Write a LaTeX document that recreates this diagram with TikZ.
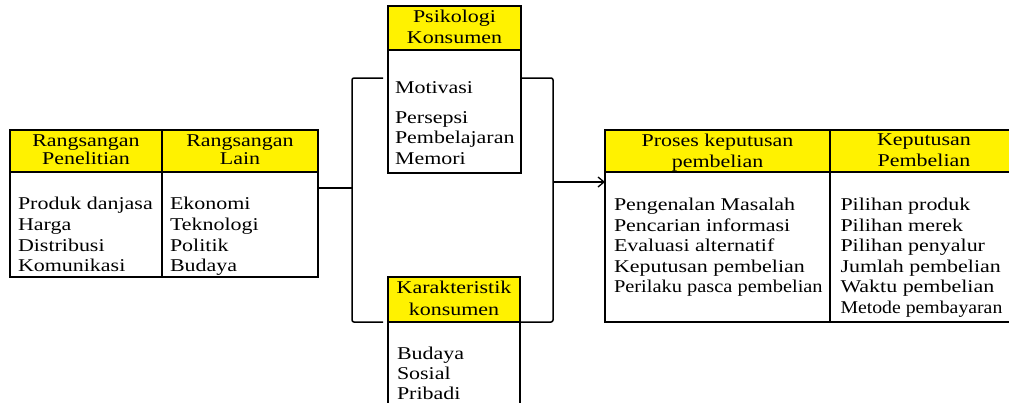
\documentclass[tikz,border=0pt]{standalone}
\usepackage{fontspec}
\usepackage{graphicx}
\setmainfont{Liberation Serif}[FakeStretch=1.22]
\usetikzlibrary{arrows.meta}
\tikzset{
  hdr/.style={draw, fill=yellow, line width=1.3pt, inner sep=0pt, outer sep=0pt, anchor=north west},
  bodybox/.style={draw, fill=white, line width=1.3pt, inner sep=0pt, outer sep=0pt, anchor=north west},
  htxt/.style={inner sep=0pt, outer sep=0pt, anchor=north, align=center, font=\fontsize{18}{20}\selectfont},
  btxt/.style={inner sep=0pt, outer sep=0pt, anchor=north west, align=left, font=\fontsize{18}{20.6}\selectfont},
  link/.style={line width=1.5pt, rounded corners=2pt},
}
\begin{document}
\begin{tikzpicture}[x=1pt,y=-1pt]
\useasboundingbox[fill=white] (0,0) rectangle (1009,402);
% left table
\node[hdr, minimum width=152pt, minimum height=42pt] (h1) at (10,130) {};
\node[hdr, minimum width=156pt, minimum height=42pt] (h2) at (162,130) {};
\node[bodybox, minimum width=152pt, minimum height=105pt] (b1) at (10,172) {};
\node[bodybox, minimum width=156pt, minimum height=105pt] (b2) at (162,172) {};
\node[htxt] (th1) at (86,134.7) {Rangsangan\\[-1.7pt]Penelitian};
\node[htxt] (th2) at (240,134.7) {Rangsangan\\[-1.7pt]Lain};
\node[btxt] (tb1) at (18,197.5) {Produk danjasa\\Harga\\Distribusi\\Komunikasi};
\node[btxt] (tb2) at (170,197.5) {Ekonomi\\Teknologi\\Politik\\Budaya};
% psikologi
\node[hdr, minimum width=133pt, minimum height=44pt] (hP) at (388,6) {};
\node[bodybox, minimum width=133pt, minimum height=123pt] (bP) at (388,50) {};
\node[htxt] (thP) at (454.5,9.7) {Psikologi\\[1.6pt]Konsumen};
\node[btxt] (tbP) at (395,82) {Motivasi\\[8.5pt]Persepsi\\Pembelajaran\\Memori};
% karakteristik
\node[hdr, minimum width=132pt, minimum height=45pt] (hK) at (388,277) {};
\node[bodybox, minimum width=132pt, minimum height=110pt] (bK) at (388,322) {};
\node[htxt] (thK) at (454,281) {Karakteristik\\[2pt]konsumen};
\node[btxt] (tbK) at (397,347.3) {Budaya\\[-0.6pt]Sosial\\[-0.6pt]Pribadi};
% right table
\node[hdr, minimum width=225pt, minimum height=42pt] (hR1) at (605,130) {};
\node[hdr, minimum width=190pt, minimum height=42pt] (hR2) at (830,130) {};
\node[bodybox, minimum width=225pt, minimum height=150pt] (bR1) at (605,172) {};
\node[bodybox, minimum width=190pt, minimum height=150pt] (bR2) at (830,172) {};
\node[htxt] (thR1) at (717.5,134) {Proses keputusan\\[0.7pt]pembelian};
\node[htxt] (thR2) at (924,134) {Keputusan\\[0.7pt]Pembelian};
\node[btxt] (tbR1) at (614,198) {Pengenalan Masalah\\Pencarian informasi\\Evaluasi alternatif\\Keputusan pembelian\\\scalebox{0.93}[1]{Perilaku pasca pembelian}};
\node[btxt] (tbR2) at (840.5,198) {Pilihan produk\\Pilihan merek\\Pilihan penyalur\\Jumlah pembelian\\Waktu pembelian\\\scalebox{0.9}[1]{Metode pembayaran}};
% connectors
\coordinate (jl) at (352,188);
\coordinate (lt) at (383,78);
\coordinate (lb) at (383,322);
\coordinate (jr) at (553,182);
\draw[line width=1.5pt] (b2.east |- jl) -- (jl);
\draw[link] (lt) -- (jl |- lt) -- (jl |- lb) -- (lb);
\draw[link] (bP.east |- lt) -- (jr |- lt) -- (jr |- lb) -- (hK.east |- lb);
\draw[line width=1.3pt, -{Straight Barb[length=6pt,width=10pt,line width=1.3pt]}] (jr) -- (bR1.west |- jr);
\end{tikzpicture}
\end{document}
